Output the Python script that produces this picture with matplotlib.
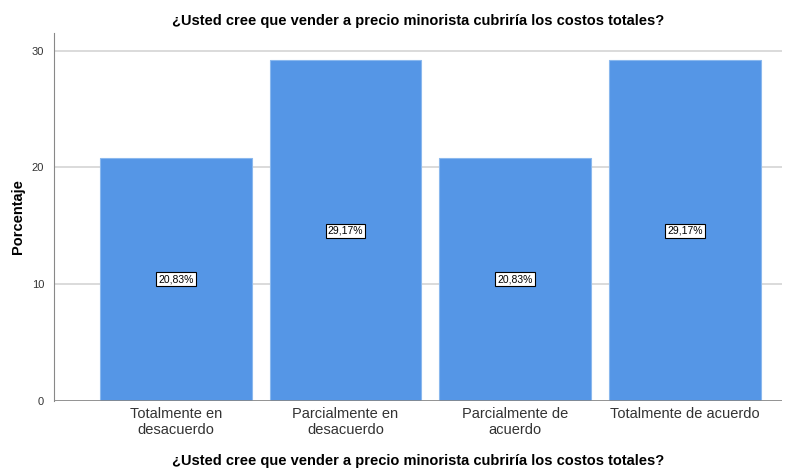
import matplotlib
matplotlib.use('Agg')
import matplotlib.pyplot as plt

plt.rcParams['font.family'] = ['Liberation Sans', 'DejaVu Sans']

categorias = ['Totalmente en\ndesacuerdo', 'Parcialmente en\ndesacuerdo',
              'Parcialmente de\nacuerdo', 'Totalmente de acuerdo']
porcentajes = [20.83, 29.17, 20.83, 29.17]
etiquetas = ['20,83%', '29,17%', '20,83%', '29,17%']
titulo = '¿Usted cree que vender a precio minorista cubriría los costos totales?'

fig = plt.figure(figsize=(7.96, 4.72), dpi=100)
ax = fig.add_axes([0.0678, 0.1504, 0.9142, 0.7796])

x = range(len(categorias))
ax.bar(x, porcentajes, width=0.894, color='#5596e6', edgecolor='#8ab8ee',
       linewidth=0.8, zorder=3)

for xi, v, t in zip(x, porcentajes, etiquetas):
    ax.text(xi, v / 2, t, ha='center', va='center', fontsize=7.5, zorder=4,
            bbox=dict(boxstyle='square,pad=0.2', fc='white', ec='black', lw=0.8))

ax.set_xlim(-0.718, 3.57)
ax.set_ylim(0, 31.5)
ax.set_yticks([0, 10, 20, 30])
ax.yaxis.grid(True, color='#d4d4d4', linewidth=1.2, zorder=0)
ax.set_xticks(list(x))
ax.set_xticklabels(categorias, fontsize=10.5, color='#333333', linespacing=1.25)
ax.tick_params(axis='y', labelsize=8, colors='#333333', length=0, pad=7)
ax.tick_params(axis='x', length=0, pad=4)

for s in ['top', 'right', 'bottom']:
    ax.spines[s].set_visible(False)
ax.spines['left'].set_color('#888888')
ax.axhline(0, color='#888888', linewidth=1.2, zorder=5)

ax.set_title(titulo, fontsize=10.5, fontweight='bold', pad=6)
ax.set_xlabel(titulo, fontsize=10.5, fontweight='bold', labelpad=12)
ax.set_ylabel('Porcentaje', fontsize=10.5, fontweight='bold', labelpad=5)

fig.savefig('out.png', dpi=100)
